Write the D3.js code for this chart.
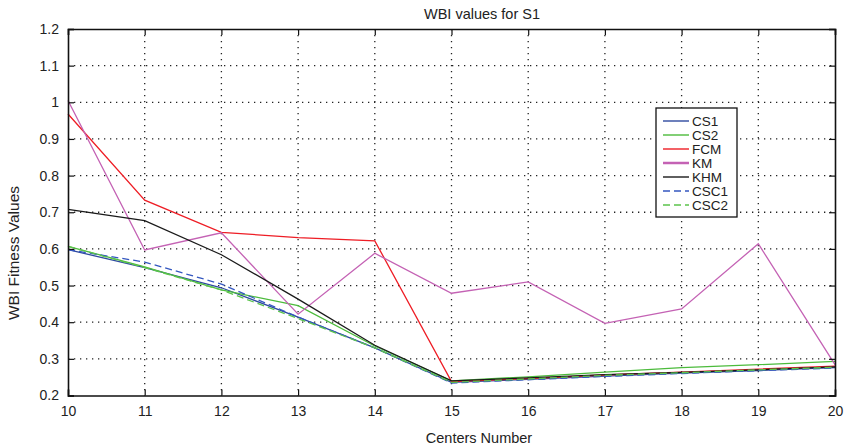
<!DOCTYPE html>
<html>
<head>
<meta charset="utf-8">
<script src="https://cdn.jsdelivr.net/npm/d3@7"></script>
<style>
  body { margin: 0; background: #fff; }
  svg { display: block; font-family: "Liberation Sans", Arial, sans-serif; }
</style>
</head>
<body>
<script>
var width = 844,
    height = 446,
    margin = {top: 29, right: 9, bottom: 50, left: 68};

var centers = [10, 11, 12, 13, 14, 15, 16, 17, 18, 19, 20];
var yTicks = [0.2, 0.3, 0.4, 0.5, 0.6, 0.7, 0.8, 0.9, 1, 1.1, 1.2];

var cs1  = [0.598, 0.549, 0.494, 0.414, 0.330, 0.236, 0.244, 0.253, 0.261, 0.268, 0.276];
var cs2  = [0.607, 0.551, 0.488, 0.445, 0.335, 0.240, 0.251, 0.264, 0.276, 0.284, 0.293];
var fcm  = [0.968, 0.733, 0.645, 0.631, 0.622, 0.238, 0.246, 0.256, 0.264, 0.272, 0.280];
var km   = [1.005, 0.597, 0.644, 0.422, 0.588, 0.479, 0.510, 0.397, 0.436, 0.614, 0.284];
var khm  = [0.708, 0.677, 0.584, 0.463, 0.337, 0.240, 0.248, 0.257, 0.263, 0.270, 0.278];
var csc1 = [0.598, 0.564, 0.504, 0.414, 0.330, 0.234, 0.243, 0.252, 0.260, 0.268, 0.275];
var csc2 = [0.607, 0.549, 0.488, 0.410, 0.330, 0.236, 0.245, 0.255, 0.262, 0.270, 0.277];

var series = [
  {name: "CS1",  values: cs1,  color: "#2f4aa0", dash: null},
  {name: "CS2",  values: cs2,  color: "#4cbb3c", dash: null},
  {name: "FCM",  values: fcm,  color: "#ee1d25", dash: null},
  {name: "KM",   values: km,   color: "#c462b4", dash: null},
  {name: "KHM",  values: khm,  color: "#1a1a1a", dash: null},
  {name: "CSC1", values: csc1, color: "#3457c0", dash: "7,4"},
  {name: "CSC2", values: csc2, color: "#5cc44c", dash: "7,4"}
];

var svg = d3.select("body").append("svg")
    .attr("width", width)
    .attr("height", height);

svg.append("rect").attr("width", width).attr("height", height).attr("fill", "#fff");

var x = d3.scaleLinear().domain([10, 20]).range([margin.left, width - margin.right]);
var y = d3.scaleLinear().domain([0.2, 1.2]).range([height - margin.bottom - 0.5, margin.top]);

// dotted grid
var grid = svg.append("g").attr("stroke", "#222").attr("stroke-width", 1.3)
    .attr("stroke-dasharray", "1.3,4.7");
grid.selectAll(".gx").data(centers.slice(1, -1)).enter().append("line")
    .attr("x1", function(d) { return x(d); }).attr("x2", function(d) { return x(d); })
    .attr("y1", y(1.2)).attr("y2", y(0.2));
grid.selectAll(".gy").data(yTicks.slice(1, -1)).enter().append("line")
    .attr("x1", x(10)).attr("x2", x(20))
    .attr("y1", function(d) { return y(d); }).attr("y2", function(d) { return y(d); });

// lines
var line = d3.line()
    .x(function(d, i) { return x(centers[i]); })
    .y(function(d) { return y(d); });

svg.append("g").selectAll("path")
    .data(series)
    .enter().append("path")
    .attr("fill", "none")
    .attr("stroke", function(d) { return d.color; })
    .attr("stroke-width", 1.3)
    .attr("stroke-dasharray", function(d) { return d.dash; })
    .attr("d", function(d) { return line(d.values); });

// axes (ticks inward, mirrored)
var fmt = function(d) { return d3.format("")(+d.toFixed(1)); };
svg.append("g").attr("transform", "translate(0," + y(0.2) + ")")
    .call(d3.axisBottom(x).tickValues(centers).tickSize(-6).tickPadding(11).tickFormat(d3.format("d")));
svg.append("g").attr("transform", "translate(0," + y(1.2) + ")")
    .call(d3.axisTop(x).tickValues(centers).tickSize(-6).tickFormat(""));
svg.append("g").attr("transform", "translate(" + x(10) + ",0)")
    .call(d3.axisLeft(y).tickValues(yTicks).tickSize(-6).tickPadding(9).tickFormat(fmt));
svg.append("g").attr("transform", "translate(" + x(20) + ",0)")
    .call(d3.axisRight(y).tickValues(yTicks).tickSize(-6).tickFormat(""));

svg.selectAll(".domain").attr("stroke", "#111").attr("stroke-width", 1.6);
svg.selectAll(".tick line").attr("stroke", "#111").attr("stroke-width", 1.2);
svg.selectAll(".tick text").attr("font-size", 14).attr("fill", "#222")
    .attr("font-family", "Liberation Sans, Arial, sans-serif");

// titles
svg.append("text").attr("x", 482).attr("y", 19).attr("text-anchor", "middle")
    .attr("font-size", 14.5).attr("fill", "#222").text("WBI values for S1");
svg.append("text").attr("x", 479).attr("y", 443).attr("text-anchor", "middle")
    .attr("font-size", 14.5).attr("fill", "#222").text("Centers Number");
svg.append("text").attr("transform", "translate(19,253) rotate(-90)").attr("text-anchor", "middle")
    .attr("font-size", 15.5).attr("fill", "#222").text("WBI Fitness Values");

// legend
var legend = svg.append("g").attr("transform", "translate(656,108)");
legend.append("rect").attr("width", 81).attr("height", 109)
    .attr("fill", "#fff").attr("stroke", "#111").attr("stroke-width", 1.3);
var item = legend.selectAll(".item").data(series).enter().append("g")
    .attr("transform", function(d, i) { return "translate(0," + (13 + i * 14) + ")"; });
item.append("line").attr("x1", 7).attr("x2", 33)
    .attr("stroke", function(d) { return d.color; })
    .attr("stroke-width", function(d) { return d.name === "KM" ? 2.5 : 1.4; })
    .attr("stroke-dasharray", function(d) { return d.dash; });
item.append("text").attr("x", 36).attr("dy", "0.35em")
    .attr("font-size", 13.5).attr("fill", "#222").text(function(d) { return d.name; });
</script>
</body>
</html>
